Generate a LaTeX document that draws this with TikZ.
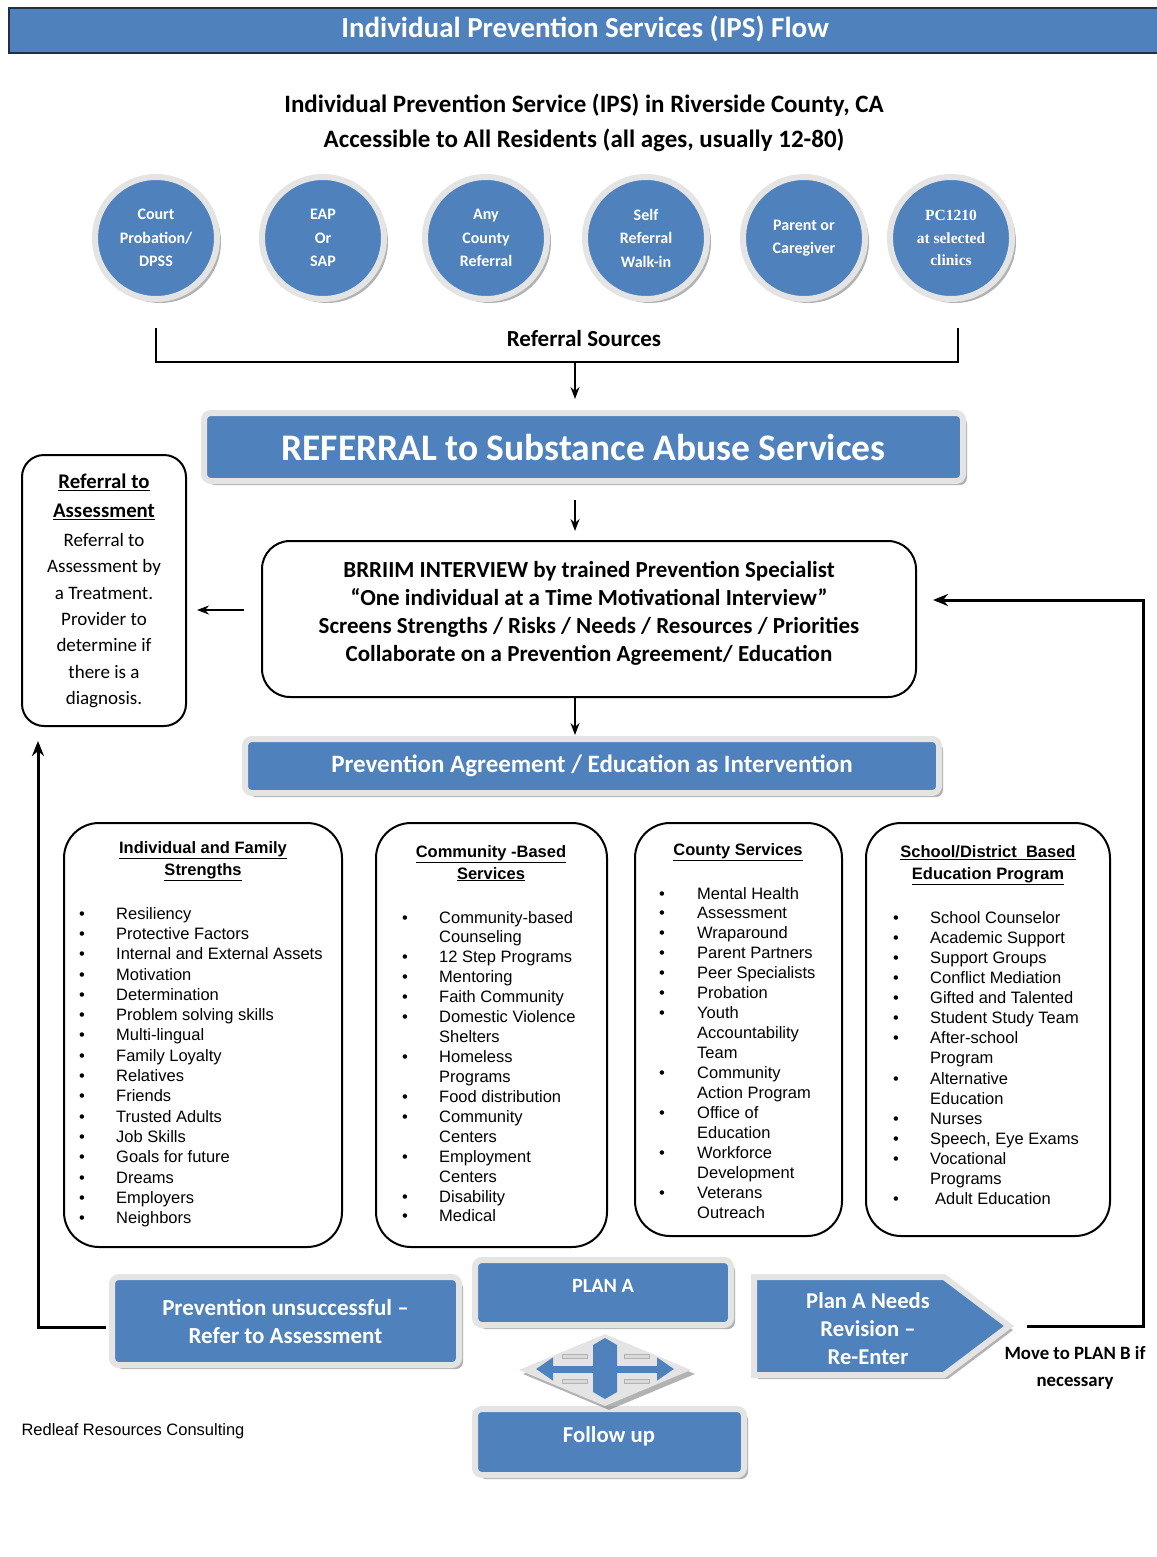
\documentclass[tikz,border=0pt]{standalone}
\usepackage{fontspec}
\setmainfont{Carlito}
\newfontfamily\arialfont{Liberation Sans}
\newfontfamily\tnrfont{Liberation Serif}
\usetikzlibrary{shadows,arrows.meta,shapes.geometric,calc}
\definecolor{ipsblue}{HTML}{4F81BD}
\definecolor{ringgray}{HTML}{E4E4E4}
\definecolor{edgeblue}{HTML}{1F2F48}
\newcommand\fs[2]{\fontsize{#1}{#2}\selectfont}
\newcommand\listrows[6]{%
  \foreach \bb/\itxt [count=\ii] in {#6}{%
    \node[itm] (#1t\ii) at (#3,{#4+(\ii-1)*#5}) {\itxt};
    \ifnum\bb=1 \node[bul] (#1b\ii) at (#2,{#4+(\ii-1)*#5}) {•};\fi
  }}
\begin{document}
\begin{tikzpicture}[x=1pt,y=-1pt,
  softshadow/.style={drop shadow={shadow xshift=4pt,shadow yshift=-4pt,fill=black!60,opacity=0.5}},
  bluebox/.style={rectangle,rounded corners=7pt,fill=ipsblue,draw=ringgray,line width=6pt,inner sep=0pt,softshadow},
  srccircle/.style={circle,fill=ipsblue,draw=ringgray,line width=6pt,minimum size=122pt,inner sep=0pt,softshadow,text=white,align=center,font=\bfseries\fs{16}{23.5}},
  wtext/.style={text=white,inner sep=0pt,align=center},
  btext/.style={inner sep=0pt,align=center},
  framebox/.style={rectangle,draw=black,line width=2pt,inner sep=0pt},
  listbox/.style={framebox,rounded corners=35pt},
  itm/.style={inner sep=0pt,anchor=base west,font=\arialfont\fs{16.5}{20}},
  bul/.style={inner sep=0pt,anchor=base,font=\arialfont\fs{16.5}{20}},
  hdr/.style={inner sep=0pt,anchor=base,font=\arialfont\bfseries\fs{16.5}{20}},
  arr/.style={line width=1.6pt,-{Stealth[length=12pt,width=9pt]}},
  fb/.style={line width=3pt,-{Stealth[length=15pt,width=12pt]}},
]
\useasboundingbox (0,0) rectangle (1156,1557);
\fill[white] (0,0) rectangle (1156,1557);

% title
\node[rectangle,fill=ipsblue,draw=edgeblue,line width=2pt,minimum width=1160pt,minimum height=45pt,inner sep=0pt] (titlebar) at (589,30.5) {};
\node[wtext,font=\bfseries\fs{29}{31}] (title) at (585,29) {Individual Prevention Services (IPS) Flow};

\node[btext,font=\bfseries\fs{25}{28}] (sub1) at (584,105) {Individual Prevention Service (IPS) in Riverside County, CA};
\node[btext,font=\bfseries\fs{25}{28}] (sub2) at (584,140) {Accessible to All Residents (all ages, usually 12-80)};

% circles
\node[srccircle] (c1) at (156,238) {Court\\Probation/\\DPSS};
\node[srccircle] (c2) at (323,238) {EAP\\Or\\SAP};
\node[srccircle] (c3) at (486,238) {Any\\County\\Referral};
\node[srccircle] (c4) at (646,238) {Self\\Referral\\Walk-in};
\node[srccircle] (c5) at (804,238) {Parent or\\Caregiver};
\node[srccircle,font=\tnrfont\bfseries\fs{15.5}{22.5}] (c6) at (951,238) {PC1210\\at selected\\clinics};

% bracket
\coordinate (bl) at (156,328);
\coordinate (brk) at (958,328);
\coordinate (bm) at (575,362);
\draw[line width=1.6pt] (bl) |- (bm) -| (brk);
\node[btext,font=\bfseries\fs{23}{26}] (rsrc) at (584,339) {Referral Sources};

% referral
\node[bluebox,minimum width=759pt,minimum height=68pt,wtext,font=\bfseries\fs{37.5}{42}] (ref) at (583.5,447) {REFERRAL to Substance Abuse Services};

% BRRIIM
\node[framebox,rounded corners=28pt,minimum width=654pt,minimum height=156pt] (brr) at (589,619) {};
\node[btext,font=\bfseries\fs{23}{28}] (brrt) at (589,613) {BRRIIM INTERVIEW by trained Prevention Specialist\\“One individual at a Time Motivational Interview”\\Screens Strengths / Risks / Needs / Resources / Priorities\\Collaborate on a Prevention Agreement/ Education};

% left box
\node[framebox,rounded corners=22pt,minimum width=164pt,minimum height=271pt] (lb) at (104,590.5) {};
\node[btext,font=\fs{19}{26.3}] (lbt) at (104,591) {{\fs{20.8}{26.3}\bfseries\underline{Referral to}}\\[2.5pt]{\fs{20.8}{26.3}\bfseries\underline{Assessment}}\\[2.5pt]Referral to\\Assessment by\\a Treatment.\\Provider to\\determine if\\there is a\\diagnosis.};

% prevention agreement
\node[bluebox,minimum width=694pt,minimum height=54pt,wtext,font=\bfseries\fs{25}{28}] (pa) at (592,766) {Prevention Agreement / Education as Intervention};

% arrows
\draw[arr,shorten >=11pt] (bm) -- (ref.north -| bm);
\draw[arr,shorten <=16pt,shorten >=9pt] (ref.south -| bm) -- (brr.north -| bm);
\draw[arr,shorten >=1pt] (brr.south -| bm) -- (pa.north -| bm);
\draw[arr,shorten <=17pt,shorten >=10pt] ([yshift=9pt]brr.west) -- ([yshift=9pt]brr.west -| lb.east);

% list boxes
\node[listbox,minimum width=278pt,minimum height=424pt] (l1) at (203,1035) {};
\node[listbox,minimum width=231pt,minimum height=424pt] (l2) at (491.5,1035) {};
\node[listbox,minimum width=207pt,minimum height=413pt] (l3) at (738.5,1029.5) {};
\node[listbox,minimum width=244pt,minimum height=413pt] (l4) at (988,1029.5) {};

\node[hdr] (h1a) at (203,853) {\underline{Individual and Family}};
\node[hdr] (h1b) at (203,875) {\underline{Strengths}};
\node[hdr] (h2a) at (491,857) {\underline{Community -Based}};
\node[hdr] (h2b) at (491,879) {\underline{Services}};
\node[hdr] (h3a) at (738,855) {\underline{County Services}};
\node[hdr] (h4a) at (988,857) {\underline{School/District\ \ Based}};
\node[hdr] (h4b) at (988,879) {\underline{Education Program}};

\listrows{a}{82}{116}{919}{20.33}{1/Resiliency,1/Protective Factors,1/Internal and External Assets,1/Motivation,1/Determination,1/Problem solving skills,1/Multi-lingual,1/Family Loyalty,1/Relatives,1/Friends,1/Trusted Adults,1/Job Skills,1/Goals for future,1/Dreams,1/Employers,1/Neighbors}
\listrows{b}{405}{439}{923}{19.93}{1/Community-based,0/Counseling,1/12 Step Programs,1/Mentoring,1/Faith Community,1/Domestic Violence,0/Shelters,1/Homeless,0/Programs,1/Food distribution,1/Community,0/Centers,1/Employment,0/Centers,1/Disability,1/Medical}
\listrows{c}{662}{697}{899}{19.94}{1/Mental Health,1/Assessment,1/Wraparound,1/Parent Partners,1/Peer Specialists,1/Probation,1/Youth,0/Accountability,0/Team,1/Community,0/Action Program,1/Office of,0/Education,1/Workforce,0/Development,1/Veterans,0/Outreach}
\listrows{d}{896}{930}{923}{20.14}{1/School Counselor,1/Academic Support,1/Support Groups,1/Conflict Mediation,1/Gifted and Talented,1/Student Study Team,1/After-school,0/Program,1/Alternative,0/Education,1/Nurses,1/{Speech, Eye Exams},1/Vocational,0/Programs,1/{\hspace{5pt}Adult Education}}

% bottom
\node[bluebox,minimum width=347pt,minimum height=88pt,wtext,font=\bfseries\fs{23}{28}] (pu) at (285.5,1321) {Prevention unsuccessful –\\Refer to Assessment};
\node[bluebox,minimum width=256pt,minimum height=65pt] (plana) at (603,1292.5) {};
\node[wtext,font=\bfseries\fs{20.3}{23}] (planat) at (603,1286) {PLAN A};
\node[bluebox,minimum width=269pt,minimum height=66pt] (fu) at (609.5,1442) {};
\node[wtext,font=\bfseries\fs{22.7}{25}] (fut) at (609,1436) {Follow up};

\filldraw[fill=ipsblue,draw=ringgray,line width=6pt,line join=miter,softshadow] (754,1277) -- (944,1277) -- (1009,1326) -- (944,1375) -- (754,1375) -- cycle;
\node[wtext,font=\bfseries\fs{22.6}{28}] (pr) at (868,1329) {Plan A Needs\\Revision –\\Re-Enter};
\coordinate (ptip) at (1009,1326);

% cross symbol
\node[diamond,aspect=2.4,minimum width=172pt,minimum height=72pt,inner sep=0pt,fill=ringgray,softshadow] (cross) at (605,1370) {};
\foreach \xx in {562,624} \foreach \yy in {1354,1379} \filldraw[fill=gray!30,draw=gray!60,line width=0.8pt] (\xx,\yy) rectangle ++(25,4);
\draw[ipsblue,line width=7pt,{Triangle[length=17pt,width=22pt]}-{Triangle[length=17pt,width=22pt]}] (536,1369) -- (674,1369);
\fill[ipsblue] (593,1345) -- (605,1338) -- (617,1345) -- (617,1392) -- (605,1399) -- (593,1392) -- cycle;

% feedback lines
\coordinate (rfx) at (1143,0);
\coordinate (lfx) at (38,0);
\draw[fb,shorten <=18pt,shorten >=16pt] (ptip) -- (ptip -| rfx) |- ([yshift=19pt]brr.east);
\draw[fb,shorten <=3pt,shorten >=14pt] ([yshift=-6pt]pu.west) -| (lb.south -| lfx);

\node[btext,font=\bfseries\fs{18.8}{27}] (mvb) at (1075,1368) {Move to PLAN B if\\necessary};
\node[inner sep=0pt,font=\arialfont\fs{16.5}{20}] (redleaf) at (133,1431) {Redleaf Resources Consulting};
\end{tikzpicture}
\end{document}
